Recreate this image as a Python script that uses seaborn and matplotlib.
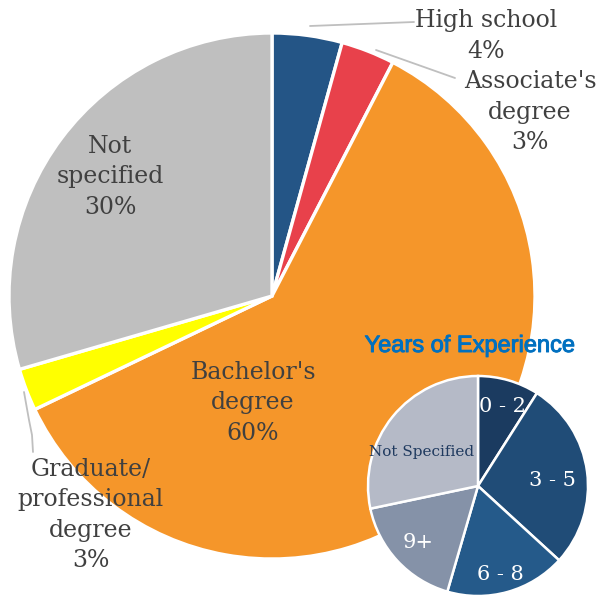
import matplotlib
matplotlib.use("Agg")
import matplotlib.pyplot as plt
import matplotlib.patheffects as pe
import seaborn as sns

# Education level (main pie), clockwise from the top
edu_labels = ["High school", "Associate's\ndegree", "Bachelor's\ndegree",
              "Graduate/\nprofessional\ndegree", "Not\nspecified"]
edu_values = [4.3, 3.3, 60.3, 2.6, 29.5]
edu_colors = ["#245586", "#E8414B", "#F5962A", "#FFFF00", "#BFBFBF"]

# Years of experience (inset pie), clockwise from the top
exp_labels = ["0 - 2", "3 - 5", "6 - 8", "9+", "Not Specified"]
exp_values = [9.0, 27.8, 17.7, 17.2, 28.3]
exp_colors = ["#1B3B60", "#204C77", "#255A8A", "#8592A8", "#B5BAC7"]

sns.set_style("white")
plt.rcParams["font.family"] = ["DejaVu Serif"]

fig = plt.figure(figsize=(6, 5.96), dpi=100)
ax = fig.add_axes([0, 0, 1, 1])
ax.axis("off")

# main pie
ax.pie(edu_values, colors=edu_colors, startangle=90, counterclock=False,
       center=(272, 300), radius=263,
       wedgeprops=dict(edgecolor="white", linewidth=2.4))

txt = dict(color="#404040", fontsize=17, ha="center", va="center", linespacing=1.4)
ax.text(486, 596 - 36, f"{edu_labels[0]}\n{edu_values[0]:.0f}%", **txt)
ax.text(530, 596 - 112, f"{edu_labels[1]}\n{edu_values[1]:.0f}%", **txt)
ax.text(253, 596 - 403, f"{edu_labels[2]}\n{edu_values[2]:.0f}%", **txt)
ax.text(91, 596 - 515, f"{edu_labels[3]}\n{edu_values[3]:.0f}%", **txt)
ax.text(110, 596 - 177, f"{edu_labels[4]}\n{edu_values[4]:.0f}%", **txt)

# leader lines
lc = dict(color="#BFBFBF", linewidth=1.3)
ax.plot([310, 414], [596 - 26, 596 - 22], **lc)
ax.plot([376, 455], [596 - 50, 596 - 78], **lc)
ax.plot([24, 29, 32, 33], [596 - 392, 596 - 420, 596 - 435, 596 - 452], **lc)

# inset pie
ax.pie(exp_values, colors=exp_colors, startangle=90, counterclock=False,
       center=(478, 110), radius=110,
       wedgeprops=dict(edgecolor="white", linewidth=1.8))
ax.text(470, 596 - 346, "Years of Experience", family="Liberation Sans",
        fontsize=17, color="#0070C0", ha="center", va="center",
        path_effects=[pe.withStroke(linewidth=0.7, foreground="#0070C0")])

itxt = dict(color="white", fontsize=15, ha="center", va="center")
ax.text(502, 596 - 407, exp_labels[0], **itxt)
ax.text(552, 596 - 480, exp_labels[1], **itxt)
ax.text(500, 596 - 575, exp_labels[2], **itxt)
ax.text(418, 596 - 542, exp_labels[3], **itxt)
ax.text(422, 596 - 452, exp_labels[4], color="#1F3A5F", fontsize=11,
        ha="center", va="center")

# pie() resets limits, so fix the pixel-like frame afterwards
ax.set_xlim(0, 600)
ax.set_ylim(0, 596)
ax.set_aspect("equal")
fig.savefig("out.png", dpi=100)
